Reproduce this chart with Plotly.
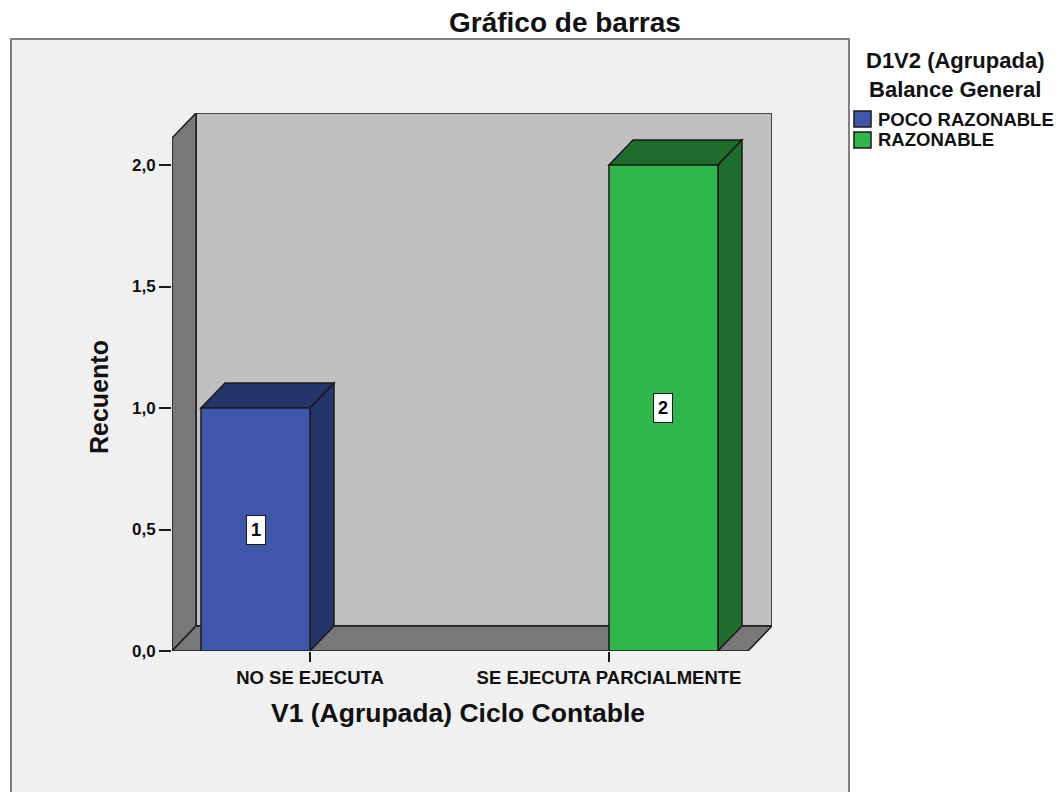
import plotly.graph_objects as go

# ---- data ----
categories = ["NO SE EJECUTA", "SE EJECUTA PARCIALMENTE"]
series_names = ["POCO RAZONABLE", "RAZONABLE"]
poco_razonable = [1, 0]
razonable = [0, 2]
y_tick_values = [0, 0.5, 1.0, 1.5, 2.0]

# ---- styling ----
FONT = "Liberation Sans, Arial, sans-serif"
front_colors = ["#3e57ab", "#2eb74a"]
shade_colors = ["#25346b", "#1d6d2c"]
WALL_BACK = "#c0c0c0"
WALL_SIDE = "#787878"
W, H = 1059, 792
H_VIEW = 782  # vertical extent used when placing items in paper coordinates

def px(x):
    return x / W

def py(y):
    return 1 - y / H_VIEW

# axis ranges (front floor edge at y=0) and 3-D depth offsets in data units
X_RANGE = [-0.4615, 1.5452]
Y_RANGE = [0, 2.214]
DX, DY = 0.0803, 0.1029
BAR_W = 0.3645
XL = X_RANGE[0]
XRF = X_RANGE[1] - DX
TOP = Y_RANGE[1]

def poly(points):
    return "M" + " L".join(f"{x},{y}" for x, y in points) + " Z"

fig = go.Figure()
shapes = []

# outer chart frame (runs off the bottom of the page)
shapes.append(dict(type="rect", xref="paper", yref="paper",
                   x0=px(11), x1=px(849), y0=py(39), y1=py(840),
                   fillcolor="#f0f0f0", line=dict(color="#808080", width=2),
                   layer="below"))

edge = dict(color="#1a1a1a", width=1.5)
# back wall, left wall, floor
shapes.append(dict(type="path", xref="x", yref="y", layer="below",
                   path=poly([(XL + DX, DY), (X_RANGE[1], DY), (X_RANGE[1], TOP), (XL + DX, TOP)]),
                   fillcolor=WALL_BACK, line=edge))
shapes.append(dict(type="path", xref="x", yref="y", layer="below",
                   path=poly([(XL, 0), (XL + DX, DY), (XL + DX, TOP), (XL, TOP - DY)]),
                   fillcolor=WALL_SIDE, line=edge))
shapes.append(dict(type="path", xref="x", yref="y", layer="below",
                   path=poly([(XL, 0), (XRF, 0), (XRF + DX, DY), (XL + DX, DY)]),
                   fillcolor=WALL_SIDE, line=edge))

annotations = []
series_values = [poco_razonable, razonable]
offsets = [-BAR_W, 0.0]
for s, values in enumerate(series_values):
    xs = [i for i, v in enumerate(values) if v > 0]
    ys = [v for v in values if v > 0]
    fig.add_bar(x=xs, y=ys, width=BAR_W, offset=offsets[s], name=series_names[s],
                marker=dict(color=front_colors[s], line=dict(color="#1a1a1a", width=1.5)),
                showlegend=False, hoverinfo="skip")
    for x, h in zip(xs, ys):
        x0 = x + offsets[s]
        x1 = x0 + BAR_W
        # top face and right side face of the 3-D bar
        shapes.append(dict(type="path", xref="x", yref="y", layer="below",
                           path=poly([(x0, h), (x1, h), (x1 + DX, h + DY), (x0 + DX, h + DY)]),
                           fillcolor=shade_colors[s], line=edge))
        shapes.append(dict(type="path", xref="x", yref="y", layer="below",
                           path=poly([(x1, 0), (x1 + DX, DY), (x1 + DX, h + DY), (x1, h)]),
                           fillcolor=shade_colors[s], line=edge))
        annotations.append(dict(xref="x", yref="y", x=(x0 + x1) / 2, y=h / 2,
                                text=f"<b>{h}</b>", showarrow=False,
                                bgcolor="white", bordercolor="#1a1a1a", borderwidth=1,
                                borderpad=4, font=dict(family=FONT, size=18, color="black")))

# titles
annotations.append(dict(xref="paper", yref="paper", x=px(565), y=py(22),
                        text="<b>Gráfico de barras</b>", showarrow=False,
                        xanchor="center", yanchor="middle",
                        font=dict(family=FONT, size=28, color="#111")))
annotations.append(dict(xref="paper", yref="paper", x=px(458), y=py(713),
                        text="<b>V1 (Agrupada) Ciclo Contable</b>", showarrow=False,
                        xanchor="center", yanchor="middle",
                        font=dict(family=FONT, size=26.5, color="#111")))
annotations.append(dict(xref="paper", yref="paper", x=px(99), y=py(397),
                        text="<b>Recuento</b>", showarrow=False, textangle=-90,
                        xanchor="center", yanchor="middle",
                        font=dict(family=FONT, size=25, color="#111")))

# legend block
annotations.append(dict(xref="paper", yref="paper", x=px(955), y=py(75),
                        text="<b>D1V2 (Agrupada)</b><br><b>Balance General</b>",
                        showarrow=False, xanchor="center", yanchor="middle", align="center",
                        font=dict(family=FONT, size=22, color="#111")))
legend_rows = [119, 140]
for s, name in enumerate(series_names):
    yc = legend_rows[s]
    shapes.append(dict(type="rect", xref="paper", yref="paper",
                       x0=px(854), x1=px(871), y0=py(yc - 8), y1=py(yc + 8),
                       fillcolor=front_colors[s], line=dict(color="#1a1a1a", width=1.5)))
    annotations.append(dict(xref="paper", yref="paper", x=px(876), y=py(yc),
                            text=f"<b>{name}</b>", showarrow=False,
                            xanchor="left", yanchor="middle",
                            font=dict(family=FONT, size=18.5, color="#111")))

fig.update_layout(
    width=W, height=H, autosize=False,
    margin=dict(l=0, r=0, t=0, b=0),
    paper_bgcolor="white",
    plot_bgcolor="rgba(0,0,0,0)",
    separators=",.",
    barmode="overlay",
    shapes=shapes,
    annotations=annotations,
    showlegend=False,
    xaxis=dict(domain=[px(172), px(772)], range=X_RANGE,
               tickvals=[0, 1], ticktext=categories,
               ticks="outside", ticklen=10, tickwidth=1.5, tickcolor="#1a1a1a",
               showline=False, showgrid=False, zeroline=False, fixedrange=True,
               tickfont=dict(family=FONT, size=18.5, color="#111", weight="bold")),
    yaxis=dict(domain=[py(651), py(113)], range=Y_RANGE,
               tickvals=y_tick_values, tickformat=".1f",
               ticks="outside", ticklen=12, tickwidth=1.5, tickcolor="#1a1a1a",
               showline=False, showgrid=False, zeroline=False, fixedrange=True,
               tickfont=dict(family=FONT, size=17, color="#111", weight="bold")),
)

fig.write_html("out.html")
